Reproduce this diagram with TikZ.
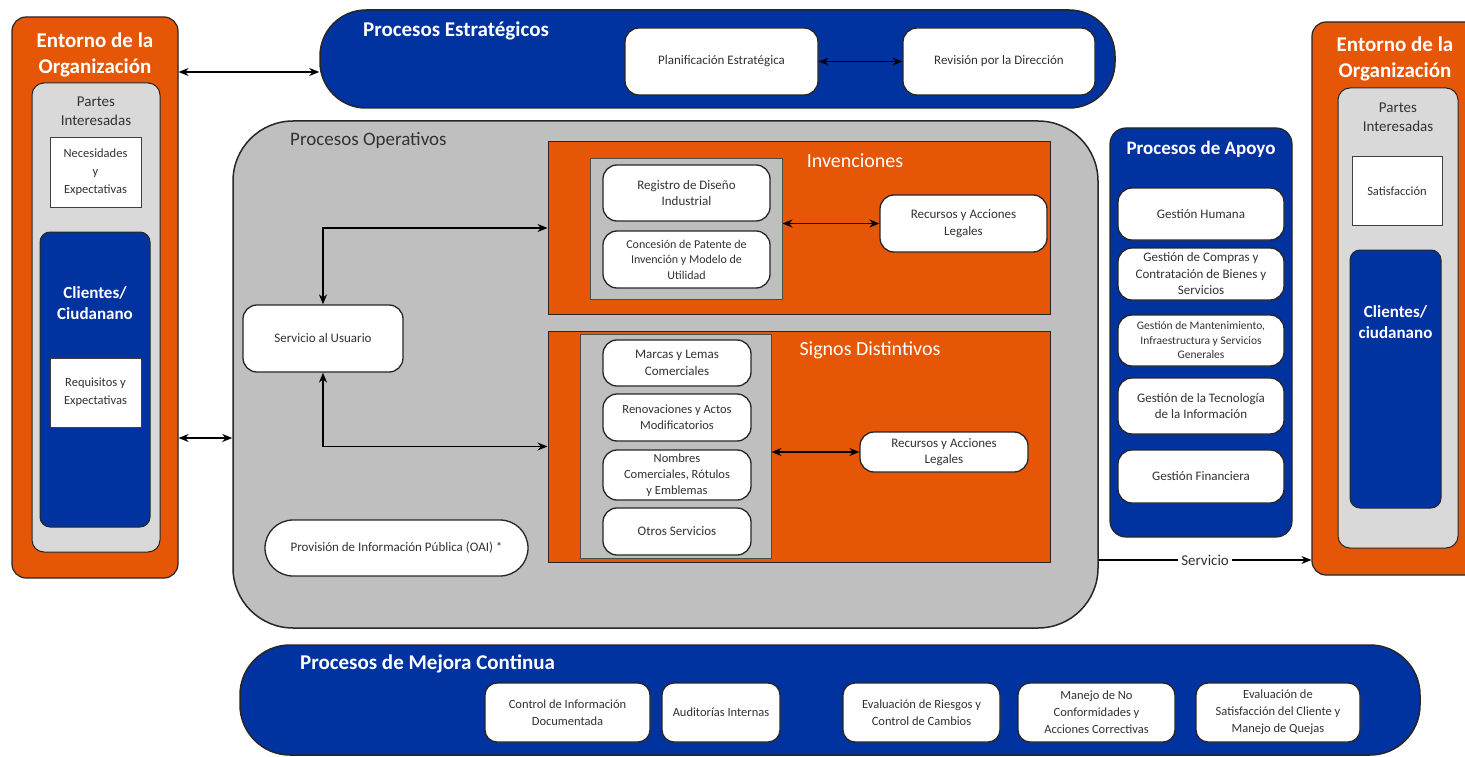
\documentclass[tikz,border=0pt]{standalone}
\usepackage{fontspec}
\setmainfont{Carlito}
\usepackage{tikz}
\usetikzlibrary{positioning,calc}
\usetikzlibrary{arrows,arrows.meta}
\definecolor{naranja}{RGB}{229,86,6}
\definecolor{azul}{RGB}{0,51,160}
\definecolor{gris}{RGB}{191,191,191}
\definecolor{grisclaro}{RGB}{217,217,217}
\definecolor{texto}{RGB}{50,50,50}
\tikzset{post/.style={<->,>={Stealth[length=10pt,width=8pt]}, line width=1.3pt},
         sal/.style={->,>={Stealth[length=10pt,width=8pt]}, line width=1.3pt},
         env/.style={draw=black!85, fill=naranja, rounded corners=14pt, line width=1.2pt},
         partes/.style={draw=black!85, fill=grisclaro, rounded corners=12pt, line width=1pt},
         cli/.style={draw=black!85, fill=azul, rounded corners=10pt, line width=1pt},
         nota/.style={draw=black!75, fill=white, line width=1pt, align=center, text=texto,
                      font=\fontsize{12.5}{18}\selectfont},
         barra/.style={draw=black!85, fill=azul, line width=1.5pt},
         area/.style={draw=black!85, fill=naranja, line width=1pt},
         marco/.style={draw=black!70, fill=gris, line width=1pt},
         proc/.style={draw=black!85, fill=white, rounded corners=14pt, line width=1.3pt,
                      align=center, text=texto, inner sep=2pt, font=\fontsize{13}{16.5}\selectfont},
         ttl/.style={text=white, align=center, inner sep=0pt, font=\bfseries\fontsize{21}{26}\selectfont},
         sub/.style={text=texto, align=center, inner sep=0pt, font=\fontsize{15}{19}\selectfont}
}

\begin{document}
\begin{tikzpicture}[x=1pt,y=-1pt]
\path[use as bounding box, clip] (0,0) rectangle (1465,757);

% entorno izquierdo
\node[env, minimum width=166pt, minimum height=561pt] (envL) at (95,297.5) {};
\node[ttl] (tL) at (95,55) {Entorno de la\\Organización};
\node[partes, minimum width=128pt, minimum height=469pt] (parL) at (96,317.5) {};
\node[sub] (sL) at (96,111) {Partes\\Interesadas};
\node[nota, minimum width=91pt, minimum height=69pt] (nec) at (95.5,172.5) {Necesidades\\y\\Expectativas};
\node[cli, minimum width=110pt, minimum height=295pt] (cliL) at (95,379.5) {};
\node[ttl, font=\bfseries\fontsize{17}{21}\selectfont] (cL) at (95,303) {Clientes/\\Ciudanano};
\node[nota, minimum width=91pt, minimum height=69pt] (req) at (95.5,392.5) {Requisitos y\\Expectativas};

% estrategicos
\node[barra, rounded corners=46pt, minimum width=795pt, minimum height=98pt] (estr) at (717.5,59) {};
\node[ttl, anchor=west] (tE) at (363,31) {Procesos Estratégicos};
\node[proc, minimum width=193pt, minimum height=67pt] (plan) at (721.5,61.5) {Planificación Estratégica};
\node[proc, minimum width=192pt, minimum height=67pt] (rev) at (999,61.5) {Revisión por la Dirección};
\draw[post] (plan) -- (rev);

% operativos
\node[marco, draw=black!85, line width=1.5pt, rounded corners=60pt, minimum width=865pt, minimum height=507pt] (oper) at (665.5,374.5) {};
\node[sub, anchor=west, font=\fontsize{19}{23}\selectfont] (tO) at (290,140) {Procesos Operativos};

\node[area, minimum width=502pt, minimum height=172pt] (inv) at (799,228) {};
\node[ttl, font=\fontsize{20}{24}\selectfont] (tI) at (855,161) {Invenciones};
\node[marco, minimum width=192pt, minimum height=140pt] (invg) at (686,229) {};
\node[proc, minimum width=167pt, minimum height=56pt] (reg) at (686.5,193) {Registro de Diseño\\Industrial};
\node[proc, minimum width=167pt, minimum height=57pt, font=\fontsize{12}{15.5}\selectfont] (pat) at (686.5,259.5) {Concesión de Patente de\\Invención y Modelo de\\Utilidad};
\node[proc, minimum width=167pt, minimum height=57pt] (recI) at (963.5,223.5) {Recursos y Acciones\\Legales};
\draw[post] (recI.west -| invg.east) -- (recI.west);

\node[area, minimum width=502pt, minimum height=231pt] (sig) at (799,446.5) {};
\node[ttl, font=\fontsize{20}{24}\selectfont] (tS) at (870,350) {Signos Distintivos};
\node[marco, minimum width=191pt, minimum height=224pt] (sigg) at (675.5,446) {};
\node[proc, minimum width=148pt, minimum height=46pt] (mar) at (677,363) {Marcas y Lemas\\Comerciales};
\node[proc, minimum width=148pt, minimum height=47pt, font=\fontsize{12.5}{16}\selectfont] (ren) at (677,417.5) {Renovaciones y Actos\\Modificatorios};
\node[proc, minimum width=148pt, minimum height=50pt, inner sep=0pt, font=\fontsize{12.5}{16}\selectfont] (nom) at (677,475) {Nombres\\Comerciales, Rótulos\\y Emblemas};
\node[proc, minimum width=148pt, minimum height=47pt] (otr) at (677,531.5) {Otros Servicios};
\node[proc, minimum width=168pt, minimum height=40pt] (recS) at (944,452) {Recursos y Acciones\\Legales};
\draw[post] (recS.west -| sigg.east) -- (recS.west);

\node[proc, minimum width=160pt, minimum height=67pt] (usu) at (323,338.5) {Servicio al Usuario};
\draw[post] (usu.north) |- (inv.west);
\draw[post] (usu.south) |- (sig.west);
\node[proc, rounded corners=28pt, minimum width=263pt, minimum height=56pt] (oai) at (396.5,548) {Provisión de Información Pública (OAI) *};

% apoyo
\node[cli, line width=1.2pt, rounded corners=16pt, minimum width=182pt, minimum height=409pt] (apo) at (1201,332.5) {};
\node[ttl, font=\bfseries\fontsize{19}{23}\selectfont] (tA) at (1201,149) {Procesos de Apoyo};
\node[proc, minimum width=166pt, minimum height=52pt] (gh) at (1201,214) {Gestión Humana};
\node[proc, minimum width=166pt, minimum height=52pt, inner sep=0pt] (gc) at (1201,274) {Gestión de Compras y\\Contratación de Bienes y\\Servicios};
\node[proc, minimum width=166pt, minimum height=51pt, inner sep=0pt, font=\fontsize{11.5}{14.5}\selectfont] (gm) at (1201,340.5) {Gestión de Mantenimiento,\\Infraestructura y Servicios\\Generales};
\node[proc, minimum width=166pt, minimum height=56pt] (gt) at (1201,406) {Gestión de la Tecnología\\de la Información};
\node[proc, minimum width=166pt, minimum height=53pt] (gf) at (1201,476.5) {Gestión Financiera};

% entorno derecho
\node[env, minimum width=168pt, minimum height=553pt] (envR) at (1396,298.5) {};
\node[ttl] (tR) at (1395,58.5) {Entorno de la\\Organización};
\node[partes, minimum width=120pt, minimum height=460pt] (parR) at (1398,318) {};
\node[sub] (sR) at (1398,117) {Partes\\Interesadas};
\node[nota, minimum width=90pt, minimum height=68pt] (sat) at (1397,191) {Satisfacción};
\node[cli, minimum width=91pt, minimum height=258pt] (cliR) at (1395.5,379) {};
\node[ttl, font=\bfseries\fontsize{17}{21}\selectfont] (cR) at (1395.5,322) {Clientes/\\ciudanano};

% conexiones externas
\coordinate (e1) at ([yshift=-13pt]estr.west);
\draw[post] (e1 -| envL.east) -- (e1);
\coordinate (o1) at ([yshift=-63.5pt]oper.west);
\draw[post] (o1 -| envL.east) -- (o1);
\coordinate (sv) at ([yshift=-185.5pt]oper.east);
\draw[sal] (sv) -- (sv -| envR.west) node[midway, fill=white, text=texto, inner sep=3pt, font=\fontsize{15}{18}\selectfont] (svl) {Servicio};

% mejora continua
\node[barra, rounded corners=50pt, minimum width=1180pt, minimum height=110pt] (mej) at (830,700) {};
\node[ttl, anchor=west] (tM) at (300,664) {Procesos de Mejora Continua};
\tikzset{mc/.style={proc, rounded corners=12pt, minimum height=59pt, inner sep=0pt, font=\fontsize{12.5}{17}\selectfont}}
\node[mc, minimum width=165pt] (ci) at (567.5,712.5) {Control de Información\\Documentada};
\node[mc, minimum width=118pt] (ai) at (721,712.5) {Auditorías Internas};
\node[mc, minimum width=157pt] (er) at (921.5,712.5) {Evaluación de Riesgos y\\Control de Cambios};
\node[mc, minimum width=157pt] (mn) at (1096.5,712.5) {Manejo de No\\Conformidades y\\Acciones Correctivas};
\node[mc, minimum width=164pt] (es) at (1278,712.5) {Evaluación de\\Satisfacción del Cliente y\\Manejo de Quejas};
\end{tikzpicture}
\end{document}
